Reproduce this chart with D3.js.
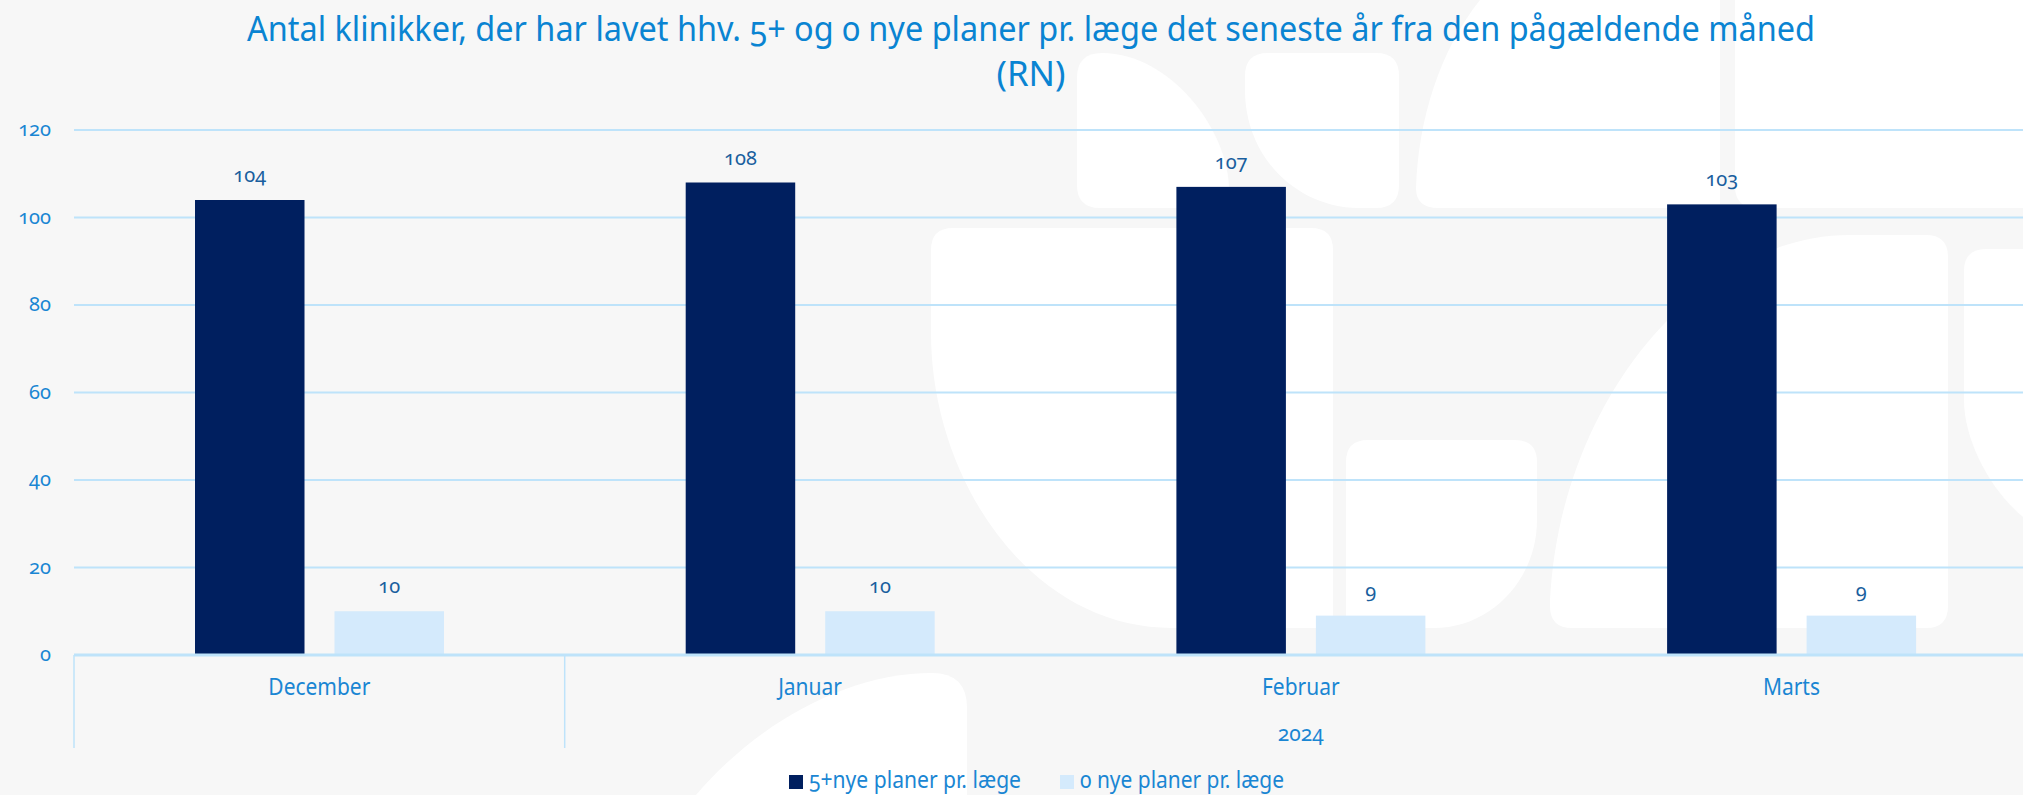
<!DOCTYPE html>
<html><head><meta charset="utf-8">
<script src="https://cdn.jsdelivr.net/npm/d3@7"></script>
<style>
html,body{margin:0;padding:0;background:#f7f7f7;overflow:hidden}
svg{display:block}
text{font-family:"Noto Sans","Open Sans",sans-serif}
.num{font-variant-numeric:oldstyle-nums;font-feature-settings:"onum" 1}
</style></head><body>
<svg id="chart" width="2023" height="795"></svg>
<script>
// ---- data ----
const categories = ["December", "Januar", "Februar", "Marts"];
const yearLabels = ["", "2024"];
const yearMonthCounts = [1, 3];
const seriesNames = ["5+nye planer pr. læge", "0 nye planer pr. læge"];
const series5plus = [104, 108, 107, 103];
const series0 = [10, 10, 9, 9];
const yTicks = [0, 20, 40, 60, 80, 100, 120];
const titleLines = ["Antal klinikker, der har lavet hhv. 5+ og 0 nye planer pr. læge det seneste år fra den pågældende måned", "(RN)"];

// ---- style ----
const colors = ["#001f5f", "#d4eafc"];
const gridColor = "#bee3fa";
const blue = "#1a86d3";
const labelBlue = "#1a5f9e";

const svg = d3.select("#chart");
const W = 2023, H = 795;
const left = 74, bandW = 490.7;

svg.append("rect").attr("width", W).attr("height", H).attr("fill", "#f7f7f7");

// decorative watermark shapes
const deco = [
  "M1077,78 Q1077,53 1102,53 C1170,53 1229,130 1229,190 Q1229,208 1211,208 L1100,208 Q1077,208 1077,185 Z",
  "M1268,53 L1376,53 Q1399,53 1399,76 L1399,185 Q1399,208 1376,208 L1358,208 C1300,208 1245,160 1245,90 L1245,76 Q1245,53 1268,53 Z",
  "M1480,0 L1720,0 L1720,208 L1438,208 Q1416,208 1416,188 C1418,120 1440,50 1480,0 Z",
  "M1735,0 L2023,0 L2023,208 L1757,208 Q1735,208 1735,186 Z",
  "M931,250 Q931,228 953,228 L1311,228 Q1333,228 1333,250 L1333,628 L1172,628 C1030,628 931,480 931,333 Z",
  "M1368,440 L1515,440 Q1537,440 1537,462 L1537,520 C1537,580 1490,628 1434,628 L1346,628 L1346,462 Q1346,440 1368,440 Z",
  "M1550,600 C1560,400 1700,235 1850,235 L1926,235 Q1948,235 1948,257 L1948,606 Q1948,628 1926,628 L1572,628 Q1550,628 1550,606 Z",
  "M1986,249 L2023,249 L2023,517 C1990,490 1964,440 1964,400 L1964,271 Q1964,249 1986,249 Z",
  "M696,795 C760,720 850,673 932,673 Q967,673 967,708 L967,795 Z"
];
svg.append("g").selectAll("path").data(deco).join("path")
  .attr("d", d => d).attr("fill", "#ffffff");

// scales
const x = d3.scaleBand().domain(categories).range([left, left + bandW * categories.length]).padding(0);
const xs = d3.scaleBand().domain(seriesNames).range([121, 370]).paddingInner(0.215).paddingOuter(0);
const y = d3.scaleLinear().domain([0, 120]).range([655, 130]);

// gridlines
svg.append("g").selectAll("line").data(yTicks.filter(t => t > 0)).join("line")
  .attr("x1", left).attr("x2", W)
  .attr("y1", d => y(d)).attr("y2", d => y(d))
  .attr("stroke", gridColor).attr("stroke-width", 2);

// y tick labels
svg.append("g").selectAll("text").data(yTicks).join("text")
  .attr("class", "num")
  .attr("x", 51).attr("y", d => y(d) + 6)
  .attr("text-anchor", "end")
  .attr("font-size", 20).attr("fill", blue)
  .text(d => d);

// bars
const rows = categories.map((c, i) => ({cat: c, vals: [series5plus[i], series0[i]]}));
const groups = svg.append("g").selectAll("g").data(rows).join("g")
  .attr("transform", d => `translate(${x(d.cat)},0)`);
groups.selectAll("rect").data(d => d.vals.map((v, j) => ({s: seriesNames[j], v, j}))).join("rect")
  .attr("x", d => xs(d.s)).attr("width", xs.bandwidth())
  .attr("y", d => y(d.v)).attr("height", d => y(0) - y(d.v))
  .attr("fill", d => colors[d.j]);
groups.selectAll("text").data(d => d.vals.map((v, j) => ({s: seriesNames[j], v, j}))).join("text")
  .attr("class", "num")
  .attr("x", d => xs(d.s) + xs.bandwidth() / 2)
  .attr("y", d => y(d.v) - 18)
  .attr("text-anchor", "middle")
  .attr("font-size", 20).attr("fill", labelBlue)
  .text(d => d.v);

// axis baseline
svg.append("line").attr("x1", left).attr("x2", W).attr("y1", y(0)).attr("y2", y(0))
  .attr("stroke", gridColor).attr("stroke-width", 3);

// category labels
const catText = svg.append("g").selectAll("text").data(categories).join("text")
  .attr("x", d => x(d) + x.bandwidth() / 2).attr("y", 695)
  .attr("text-anchor", "middle").attr("font-size", 24).attr("fill", blue)
  .text(d => d);
{
  const ref = catText.node().getComputedTextLength();
  const r = 102 / ref;
  catText.each(function() {
    const L = this.getComputedTextLength();
    this.setAttribute("textLength", L * r);
    this.setAttribute("lengthAdjust", "spacingAndGlyphs");
  });
}

// year group separators and labels
let idx = 0;
const yearGroups = yearLabels.map((lab, i) => {
  const start = x(categories[idx]);
  const endCat = categories[idx + yearMonthCounts[i] - 1];
  const end = x(endCat) + x.bandwidth();
  idx += yearMonthCounts[i];
  return {lab, start, end};
});
svg.append("g").selectAll("line").data(yearGroups).join("line")
  .attr("x1", d => d.start).attr("x2", d => d.start)
  .attr("y1", y(0)).attr("y2", 748)
  .attr("stroke", gridColor).attr("stroke-width", 1.5);
svg.append("g").selectAll("text").data(yearGroups).join("text")
  .attr("class", "num")
  .attr("x", d => (d.start + d.end) / 2).attr("y", 741)
  .attr("text-anchor", "middle").attr("font-size", 21).attr("fill", blue)
  .text(d => d.lab);

// title
const tt = svg.append("g").selectAll("text").data(titleLines).join("text")
  .attr("class", "num")
  .attr("x", 1031).attr("y", (d, i) => 41 + i * 45)
  .attr("text-anchor", "middle").attr("font-size", 35).attr("fill", "#0a84d2")
  .text(d => d);
{
  const targets = [1568, 69];
  tt.each(function(d, i) {
    this.setAttribute("textLength", targets[i]);
    this.setAttribute("lengthAdjust", "spacingAndGlyphs");
  });
}

// legend
const legendX = [789, 1060];
const lg = svg.append("g").selectAll("g").data(seriesNames).join("g")
  .attr("transform", (d, i) => `translate(${legendX[i]},0)`);
lg.append("rect").attr("x", 0).attr("y", 775).attr("width", 14).attr("height", 14)
  .attr("fill", (d, i) => colors[i]);
const lt = lg.append("text").attr("class", "num").attr("x", 20).attr("y", 788)
  .attr("font-size", 23).attr("fill", blue).text(d => d);
{
  const widths = [212, 204];
  lt.each(function(d, i) {
    this.setAttribute("textLength", widths[i]);
    this.setAttribute("lengthAdjust", "spacingAndGlyphs");
  });
}
</script>
</body></html>
